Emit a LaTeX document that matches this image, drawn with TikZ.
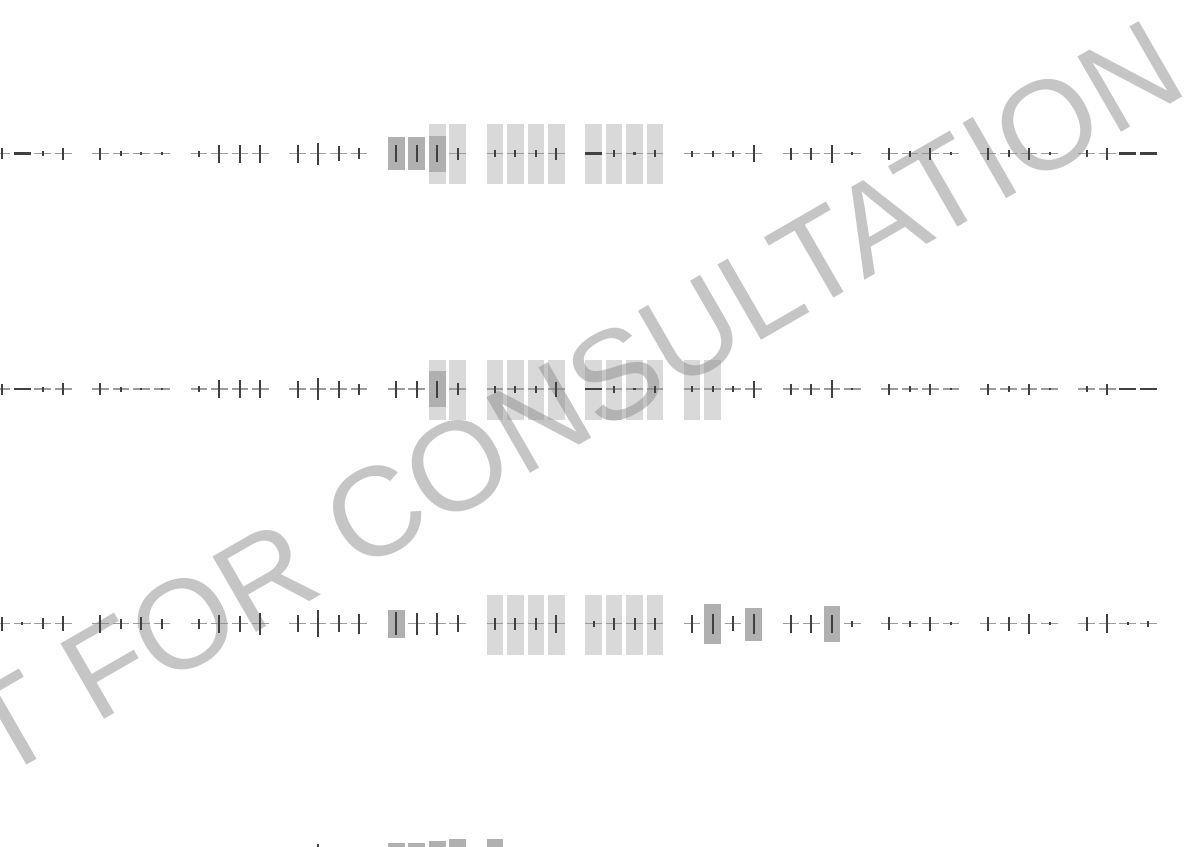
\documentclass[tikz,border=0pt]{standalone}
\usepackage{fontspec}
\newfontfamily\wmfont{Liberation Sans}
\definecolor{lightboxcol}{HTML}{D9D9D9}
\definecolor{darkboxcol}{HTML}{B0B0B0}
\definecolor{rulecol}{HTML}{9C9C9C}
\definecolor{tickcol}{HTML}{404040}
\definecolor{wmcol}{HTML}{8C8C8C}
\newcommand\cellx[2]{\pgfmathsetmacro{\cx}{1.7+98.64*#1+20.5*#2}}
\newcommand\lbox[3]{\cellx{#1}{#2}\fill[lightboxcol] (\cx-8.3,#3-30) rectangle (\cx+8.3,#3+30);}
\newcommand\dbox[4]{\cellx{#1}{#2}\fill[darkboxcol] (\cx-8.3,#3) rectangle (\cx+8.3,#4);}
\newcommand\rowlines[2]{\foreach \L [count=\i from 0] in #2 {%
  \pgfmathtruncatemacro{\g}{floor(\i/4)}%
  \pgfmathtruncatemacro{\c}{mod(\i,4)}%
  \cellx{\g}{\c}%
  \draw[rulestyle] (\cx-8.3,#1) -- (\cx+8.3,#1);}}
\newcommand\rowticks[2]{\foreach \L [count=\i from 0] in #2 {%
  \pgfmathtruncatemacro{\g}{floor(\i/4)}%
  \pgfmathtruncatemacro{\c}{mod(\i,4)}%
  \cellx{\g}{\c}%
  \ifnum\L<0\relax
    \draw[dashmark] (\cx-8.3,#1) -- (\cx+8.3,#1);%
  \else\ifnum\L=0\relax
    \fill[tickcol] (\cx-1.1,#1-1.2) rectangle (\cx+1.1,#1+1.2);%
  \else
    \draw[tickmark] (\cx,#1-\L/2) -- (\cx,#1+\L/2);%
  \fi\fi}}
\begin{document}
\begin{tikzpicture}[x=1pt,y=-1pt,
  rulestyle/.style={draw=rulecol,line width=1.4pt},
  dashmark/.style={draw=tickcol,line width=2.4pt},
  tickmark/.style={draw=tickcol,line width=2pt},
  watermark/.style={rotate=30,anchor=base east,inner sep=0pt,text=wmcol,opacity=0.5,
    font=\wmfont\fontsize{126.5}{126.5}\selectfont}]
\useasboundingbox (0,0) rectangle (1193,846);
\clip (0,0) rectangle (1193,846);
\fill[white] (0,0) rectangle (1193,846);
% ---------- light boxes
\foreach \g/\c in {4/2,4/3,5/0,5/1,5/2,5/3,6/0,6/1,6/2,6/3} {\lbox{\g}{\c}{154}}
\foreach \g/\c in {4/2,4/3,5/0,5/1,5/2,5/3,6/0,6/1,6/2,6/3,7/0,7/1} {\lbox{\g}{\c}{390}}
\foreach \g/\c in {5/0,5/1,5/2,5/3,6/0,6/1,6/2,6/3} {\lbox{\g}{\c}{625}}
% ---------- horizontal rules
\def\rowA{11,-1,5,12, 12,5,0,0, 6,18,18,18, 18,22,15,11, 17,17,17,12, 7,7,7,12, -1,7,0,7, 6,6,6,17, 12,12,18,0, 12,6,12,0, 12,7,12,0, 7,12,-1,-1}
\def\rowB{11,-1,5,12, 12,5,0,0, 6,18,18,18, 17,22,17,11, 17,17,17,12, 7,7,7,15, -1,7,0,7, 6,6,6,17, 11,11,18,0, 11,6,11,0, 11,6,11,0, 6,11,-1,-1}
\def\rowC{14,0,11,15, 18,10,13,10, 10,18,16,22, 17,27,17,20, 23,22,22,17, 12,12,12,18, 6,12,12,12, 18,20,15,20, 18,18,18,6, 13,6,14,0, 14,14,20,0, 14,19,0,6}
\rowlines{153.5}{\rowA}
\rowlines{389}{\rowB}
\rowlines{623.5}{\rowC}
% ---------- dark boxes
\dbox{4}{0}{137.3}{170}
\dbox{4}{1}{137.3}{170}
\dbox{4}{2}{136}{171.7}
\dbox{4}{2}{370.7}{406.7}
\dbox{4}{0}{610}{638.3}
\dbox{7}{1}{604}{644}
\dbox{7}{3}{608.3}{640.7}
\dbox{8}{2}{606}{642}
\dbox{4}{0}{843.3}{874}
\dbox{4}{1}{843.3}{874}
\dbox{4}{2}{841.3}{876}
\dbox{4}{3}{839.3}{878}
\dbox{5}{0}{839.3}{878}
% ---------- watermark
\node[watermark] (wm) at (1191.3,92.2) {DRAFT FOR CONSULTATION};
% ---------- ticks
\rowticks{153.5}{\rowA}
\rowticks{389}{\rowB}
\rowticks{623.5}{\rowC}
\cellx{3}{1}\draw[tickmark] (\cx,844) -- (\cx,872);
\end{tikzpicture}
\end{document}
